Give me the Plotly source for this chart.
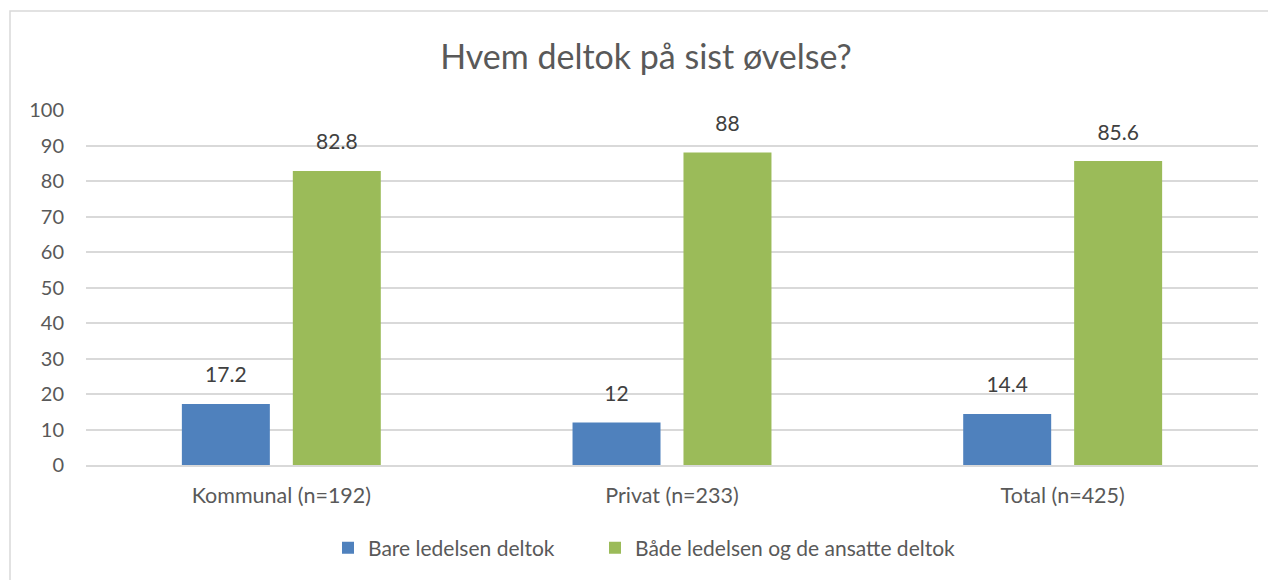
import plotly.graph_objects as go

categories = ["Kommunal (n=192)", "Privat (n=233)", "Total (n=425)"]
series_names = ["Bare ledelsen deltok", "Både ledelsen og de ansatte deltok"]
bare = [17.2, 12, 14.4]
begge = [82.8, 88, 85.6]
colors = ["#4F81BD", "#9BBB59"]

FONT = "Lato, 'Open Sans', sans-serif"
OFF = 8  # default page margin of the html body
W, H = 1276 - OFF, 580 - OFF
L, R, T, B = 86 - OFF, 18, 110 - OFF, 115
pw, ph = W - L - R, H - T - B


def px(x):
    return (x - OFF - L) / pw


def py(y):
    return (H - B - (y - OFF)) / ph


fig = go.Figure()
for i, (name, vals, c) in enumerate(zip(series_names, [bare, begge], colors)):
    fig.add_trace(go.Bar(
        x=categories, y=vals, name=name, marker=dict(color=c, line=dict(width=0)),
        text=[f"<span style='font-size:21px'>{v:g}</span><br> " for v in vals],
        textposition="outside", cliponaxis=False,
        textfont=dict(size=12, color="#404040", family=FONT),
        hovertemplate="%{x}: %{y}<extra>" + name + "</extra>",
        legend="legend" if i == 0 else "legend2",
    ))

leg_common = dict(orientation="h", xanchor="left", y=py(548), yanchor="middle",
                  font=dict(size=21, color="#595959"), itemwidth=30)

fig.update_layout(
    width=W, height=H,
    margin=dict(l=L, r=R, t=T, b=B),
    paper_bgcolor="white", plot_bgcolor="white",
    barmode="group", bargap=0.432, bargroupgap=0.207,
    title=dict(text="Hvem deltok på sist øvelse?", xref="paper", x=px(646), xanchor="center",
               y=1 - (57 - OFF) / H, yanchor="middle",
               font=dict(size=34, color="#595959", family=FONT)),
    font=dict(family=FONT, color="#595959"),
    xaxis=dict(showgrid=False, showline=True, linecolor="#d9d9d9", linewidth=1.5,
               tickfont=dict(size=21.5, color="#595959"), ticks="", ticklabelstandoff=10),
    yaxis=dict(range=[0, 100], dtick=10, showgrid=True, gridcolor="#d9d9d9", gridwidth=1.5,
               zeroline=False, showline=False, ticks="", ticklabelstandoff=21,
               tickfont=dict(size=20, color="#595959")),
    legend=dict(x=px(328), **leg_common),
    legend2=dict(x=px(595), **leg_common),
    showlegend=True,
    shapes=[dict(type="rect", xref="paper", yref="paper",
                 x0=px(10), x1=px(1300), y0=py(11), y1=py(620),
                 line=dict(color="#d9d9d9", width=1.5), fillcolor="rgba(0,0,0,0)", layer="below")],
)
fig.write_html("out.html")
